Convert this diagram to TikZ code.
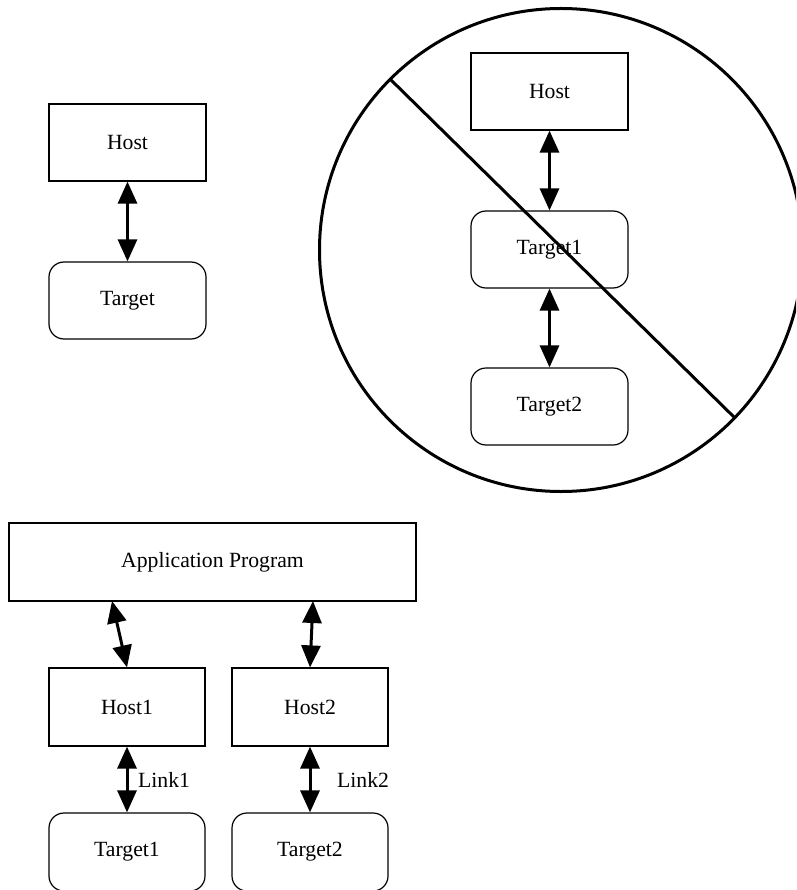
\documentclass[tikz,border=0pt]{standalone}
\usepackage{fontspec}
\setmainfont{Liberation Serif}
\usetikzlibrary{arrows.meta}
\begin{document}
\begin{tikzpicture}[x=1pt,y=-1pt,
  every node/.style={font=\fontsize{21.7}{26}\selectfont},
  hostbox/.style={draw, line width=1.2pt, rectangle, minimum width=157pt, minimum height=77pt, inner sep=0pt},
  targetbox/.style={hostbox, rounded corners=15pt},
  biarrow/.style={line width=3pt, {Triangle[length=22pt,width=19pt]}-{Triangle[length=22pt,width=19pt]}, shorten <=0pt, shorten >=0pt},
  lbl/.style={anchor=west, inner sep=0pt}
]
\useasboundingbox (0,0) rectangle (796,890);
\clip (0,0) rectangle (796,890);
% top-left
\node[hostbox] (host) at (127.5,142.5) {Host};
\node[targetbox] (target) at (127.5,300.5) {Target};
\draw[biarrow] (host.south) -- (target.north);
% circle group
\node[hostbox] (chost) at (549.5,91.5) {Host};
\node[targetbox] (ct1) at (549.5,249.5) {Target1};
\node[targetbox] (ct2) at (549.5,406.5) {Target2};
\draw[biarrow] (chost.south) -- (ct1.north);
\draw[biarrow] (ct1.south) -- (ct2.north);
\node[draw, circle, line width=3pt, minimum size=483pt, inner sep=0pt, outer sep=0pt] (ring) at (561,250) {};
\draw[line width=3pt] (ring.135) -- (ring.-44);
% bottom group
\node[hostbox, minimum width=407pt, minimum height=78pt] (app) at (212.5,562) {Application Program};
\node[hostbox, minimum width=156pt, minimum height=78pt] (host1) at (127,707) {Host1};
\node[hostbox, minimum width=156pt, minimum height=78pt] (host2) at (310,707) {Host2};
\node[targetbox, minimum width=156pt, minimum height=78pt] (t1) at (127,852) {Target1};
\node[targetbox, minimum width=156pt, minimum height=78pt] (t2) at (310,852) {Target2};
\coordinate (a1) at (112,601);
\coordinate (a2) at (313,601);
\draw[biarrow] (a1) -- (host1.north);
\draw[biarrow] (a2) -- (host2.north);
\draw[biarrow] (host1.south) -- (t1.north);
\draw[biarrow] (host2.south) -- (t2.north);
\node[lbl] (link1) at (138,780) {Link1};
\node[lbl] (link2) at (337,780) {Link2};
\end{tikzpicture}
\end{document}
